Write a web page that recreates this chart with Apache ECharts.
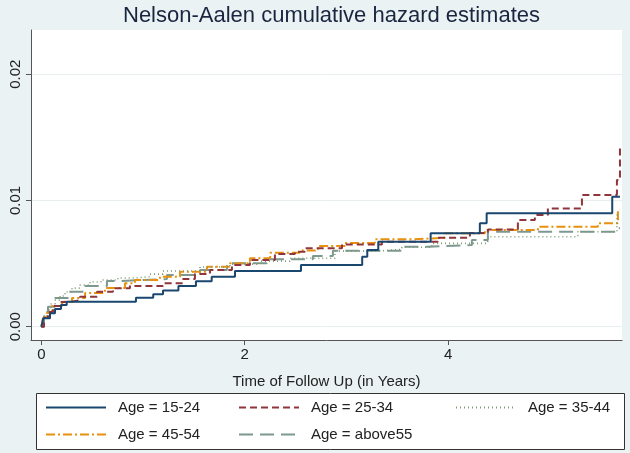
<!DOCTYPE html>
<html>
<head>
<meta charset="utf-8">
<script src="https://cdn.jsdelivr.net/npm/echarts@6/dist/echarts.min.js"></script>
<style>html,body{margin:0;padding:0;background:#eaf2f3;}#c{width:630px;height:453px;}</style>
</head>
<body>
<div id="c"></div>
<script>
// ---- data ----
var seriesNames = ['Age = 15-24', 'Age = 25-34', 'Age = 35-44', 'Age = 45-54', 'Age = above55'];

var t15_24 = [0, 0.019, 0.085, 0.134, 0.193, 0.249, 0.93, 1.10, 1.196, 1.348, 1.52, 1.675, 1.904, 2.553, 3.155, 3.205, 3.313, 3.828, 4.312, 4.379, 5.614, 5.69];
var v15_24 = [0, 0.00067, 0.00106, 0.0014, 0.00172, 0.00198, 0.0023, 0.00257, 0.00287, 0.00322, 0.0036, 0.00396, 0.00441, 0.00489, 0.00554, 0.00607, 0.00673, 0.0074, 0.00819, 0.00898, 0.0103, 0.0103];

var t25_34 = [0, 0.026, 0.065, 0.114, 0.183, 0.281, 0.38, 0.547, 0.704, 0.871, 1.196, 1.392, 1.51, 1.658, 1.874, 2.051, 2.297, 2.493, 2.592, 2.956, 3.349, 3.9, 4.214, 4.391, 4.686, 4.853, 4.981, 5.316, 5.66, 5.69];
var v25_34 = [0, 0.00069, 0.00116, 0.00164, 0.00196, 0.00211, 0.00238, 0.00277, 0.00304, 0.00322, 0.00344, 0.00378, 0.00417, 0.00449, 0.00489, 0.00528, 0.00576, 0.00594, 0.00621, 0.00652, 0.00673, 0.00705, 0.00742, 0.00771, 0.00845, 0.00884, 0.00937, 0.01043, 0.01162, 0.01415];

var t35_44 = [0, 0.026, 0.055, 0.094, 0.134, 0.183, 0.232, 0.301, 0.38, 0.478, 0.586, 0.753, 0.92, 1.068, 1.196, 1.56, 1.854, 2.15, 2.444, 2.887, 3.31, 3.546, 3.84, 4.39, 5.276, 5.66, 5.69];
var v35_44 = [0, 0.00069, 0.00132, 0.0018, 0.00211, 0.00243, 0.00275, 0.00306, 0.0033, 0.00354, 0.0037, 0.00386, 0.00397, 0.00417, 0.00441, 0.00473, 0.00496, 0.0052, 0.00542, 0.00599, 0.00613, 0.00629, 0.0066, 0.00713, 0.00752, 0.00884, 0.00884];

var t45_54 = [0, 0.016, 0.045, 0.104, 0.203, 0.301, 0.43, 0.625, 0.822, 0.92, 1.166, 1.363, 1.628, 1.854, 2.051, 2.25, 2.54, 2.72, 2.985, 3.28, 3.644, 3.968, 4.362, 4.883, 5.473, 5.67, 5.69];
var v45_54 = [0, 0.00069, 0.00108, 0.00164, 0.00198, 0.00227, 0.00267, 0.00306, 0.00344, 0.0037, 0.00396, 0.00435, 0.00475, 0.00502, 0.00542, 0.00586, 0.00603, 0.00639, 0.00663, 0.00692, 0.00705, 0.0074, 0.00766, 0.00792, 0.00819, 0.00924, 0.00924];

var tAbove55 = [0, 0.026, 0.065, 0.134, 0.262, 0.43, 0.645, 0.793, 0.999, 1.235, 1.56, 1.825, 2.218, 2.67, 2.867, 3.556, 3.801, 4.234, 4.391, 5.65, 5.69];
var vAbove55 = [0, 0.00085, 0.00158, 0.00227, 0.00277, 0.00322, 0.00362, 0.0037, 0.00378, 0.00409, 0.00449, 0.00502, 0.00534, 0.0056, 0.00602, 0.00633, 0.00647, 0.00686, 0.00752, 0.00779, 0.00779];

var xTicks = [0, 2, 4];
var yTicks = [0, 0.01, 0.02];

// ---- build ----
function pairs(t, v) { return t.map(function (x, i) { return [x, v[i]]; }); }
var allT = [t15_24, t25_34, t35_44, t45_54, tAbove55];
var allV = [v15_24, v25_34, v35_44, v45_54, vAbove55];
var colors = ['#1a476f', '#90353b', '#7f9a72', '#e8900f', '#7d9890'];
var dashes = ['solid', [7, 4], [1, 3], [9, 3, 2, 3], [14, 7]];
var widths = [2, 2, 1.6, 2, 2];

var series = seriesNames.map(function (n, i) {
  return {
    name: n, type: 'line', step: 'end', symbol: 'none', silent: true,
    data: pairs(allT[i], allV[i]),
    lineStyle: { color: colors[i], width: widths[i], type: dashes[i] },
    itemStyle: { color: colors[i] },
    z: 10 - i
  };
});

var font = 'Liberation Sans, Arial, Helvetica, sans-serif';
var legendText = { fontSize: 15, color: '#222', fontFamily: font, padding: [0, 0, 0, 7] };
function legendCol(names, left) {
  return {
    data: names, orient: 'vertical', left: left, top: 400, itemGap: 12,
    itemWidth: 60, itemHeight: 14, textStyle: legendText, selectedMode: false, padding: 0,
    itemStyle: { color: 'rgba(0,0,0,0)', borderWidth: 0, opacity: 0 }
  };
}

var chart = echarts.init(document.getElementById('c'), null, { renderer: 'canvas' });
chart.setOption({
  backgroundColor: '#eaf2f3',
  animation: false,
  title: {
    text: 'Nelson-Aalen cumulative hazard estimates', left: 118, top: 0,
    textStyle: { fontSize: 22, fontWeight: 'normal', color: '#1a2640', fontFamily: font }
  },
  graphic: [{
    type: 'rect', left: 36, top: 393, z: -1,
    shape: { width: 588, height: 56 },
    style: { fill: '#ffffff', stroke: '#333333', lineWidth: 1 }
  }],
  legend: [
    legendCol([seriesNames[0], seriesNames[3]], 45),
    legendCol([seriesNames[1], seriesNames[4]], 238),
    legendCol([seriesNames[2]], 455)
  ],
  grid: {
    left: 31, right: 8, top: 30, bottom: 113, show: true,
    backgroundColor: '#ffffff', borderWidth: 0, outerBoundsMode: 'none', containLabel: false
  },
  xAxis: {
    type: 'value', min: -0.102, max: 5.71,
    name: 'Time of Follow Up (in Years)', nameLocation: 'middle', nameGap: 34,
    nameTextStyle: { fontSize: 15, color: '#222', fontFamily: font },
    axisLine: { show: true, onZero: false, lineStyle: { color: '#555', width: 1 } },
    axisTick: { show: true, length: 5, customValues: xTicks, lineStyle: { color: '#555' } },
    axisLabel: { customValues: xTicks, fontSize: 15, color: '#222', margin: 7, fontFamily: font,
      formatter: function (v) { return String(v); } },
    splitLine: { show: false }
  },
  yAxis: {
    type: 'value', min: -0.00105, max: 0.0235,
    axisLine: { show: true, onZero: false, lineStyle: { color: '#555', width: 1 } },
    axisTick: { show: true, length: 5, customValues: yTicks, lineStyle: { color: '#555' } },
    axisLabel: { customValues: yTicks, fontSize: 15, color: '#222', rotate: 90, margin: 8, fontFamily: font,
      formatter: function (v) { return v.toFixed(2); } },
    splitLine: { show: true, lineStyle: { color: '#e8eeef', width: 1 } }
  },
  series: series
});
</script>
</body>
</html>
